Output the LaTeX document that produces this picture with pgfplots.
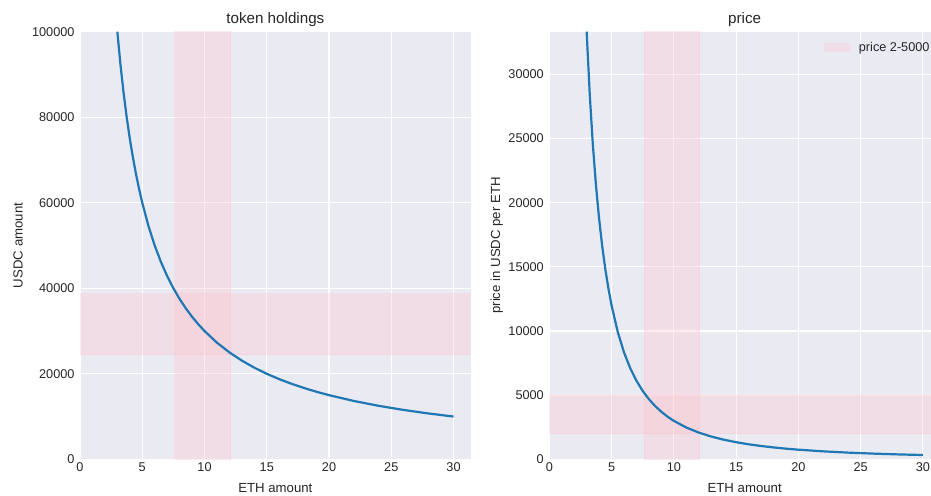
\documentclass[border=0pt]{standalone}
\usepackage{fontspec}
\setmainfont{Liberation Sans}
\usepackage{pgfplots}
\usepackage{pgfplotstable}
\pgfplotsset{compat=1.18}
\definecolor{bgc}{HTML}{EAEAF2}
\definecolor{txt}{HTML}{262626}
\definecolor{c0}{HTML}{1F77B4}
\definecolor{pinkc}{HTML}{FFC0CB}

\pgfplotstableread{
x usdc price
3 100000 33333.3
3.25 92307.7 28402.4
3.5 85714.3 24489.8
3.75 80000 21333.3
4 75000 18750
4.25 70588.2 16609.0
4.5 66666.7 14814.8
4.75 63157.9 13296.4
5 60000 12000
5.5 54545.5 9917.4
6 50000 8333.3
6.5 46153.8 7100.6
7 42857.1 6122.4
7.5 40000 5333.3
8 37500 4687.5
8.5 35294.1 4152.2
9 33333.3 3703.7
9.5 31578.9 3324.1
10 30000 3000
11 27272.7 2479.3
12 25000 2083.3
13 23076.9 1775.1
14 21428.6 1530.6
15 20000 1333.3
16 18750 1171.9
17 17647.1 1038.1
18 16666.7 925.9
19 15789.5 831.0
20 15000 750
22 13636.4 619.8
24 12500 520.8
26 11538.5 443.8
28 10714.3 382.7
30 10000 333.3
}\data

\pgfplotsset{
 every axis title shift=0pt,
 sns/.style={
  scale only axis, width=390.7bp, height=427.6bp,
  anchor=south west,
  axis background/.style={fill=bgc},
  axis line style={draw=none},
  major tick length=0pt,
  grid=major, major grid style={white, line width=1.1bp},
  xmin=0, xmax=31.38, xtick={0,5,...,30},
  ymin=0,
  /pgf/number format/assume math mode=true,
  tick label style={font=\fontsize{12.7bp}{15bp}\selectfont, text=txt},
  yticklabel style={xshift=-2bp},
  label style={font=\fontsize{13.2bp}{16bp}\selectfont, text=txt},
  xlabel style={at={([yshift=-29bp]rel axis cs:0.5,0)}, anchor=center},
  title style={font=\fontsize{15.2bp}{18bp}\selectfont, text=txt, at={([yshift=7.7bp]rel axis cs:0.5,1)}, anchor=base},
  scaled y ticks=false,
  yticklabel style={/pgf/number format/fixed, /pgf/number format/1000 sep={}},
 },
 band/.style={fill=pinkc, fill opacity=0.3, draw=pinkc, draw opacity=0.3, line width=0.8bp, forget plot},
}

\begin{document}
\begin{tikzpicture}
\useasboundingbox (0,0) rectangle (931bp,496bp);
\begin{axis}[sns, at={(80bp,36.7bp)},
  ymax=100000, ytick={0,20000,...,100000},
  title={token holdings}, xlabel={ETH amount}, ylabel={USDC amount},
  ylabel style={at={([xshift=-62bp]rel axis cs:0,0.5)}, anchor=center}]
\addplot[band] coordinates {(7.59,-1000) (12.09,-1000) (12.09,101000) (7.59,101000)} -- cycle;
\addplot[band] coordinates {(-1,24495) (33,24495) (33,38730) (-1,38730)} -- cycle;
\addplot[c0, line width=2.2bp, forget plot] table[x=x, y=usdc] {\data};
\end{axis}
\begin{axis}[sns, at={(549.3bp,36.7bp)},
  ymax=33333.3, ytick={0,5000,...,30000},
  title={price}, xlabel={ETH amount}, ylabel={price in USDC per ETH},
  ylabel style={at={([xshift=-52.5bp]rel axis cs:0,0.5)}, anchor=center},
  legend style={draw=none, fill=none, inner sep=0pt, at={(rel axis cs:1,1)}, anchor=north east, xshift=-8.3bp, yshift=-8.3bp, font=\fontsize{12.7bp}{15bp}\selectfont, text=txt},
  legend cell align=left,
  legend image code/.code={\path[fill=pinkc, fill opacity=0.3, draw=none] (0bp,-4.8bp) rectangle (27bp,4.8bp); \path (0bp,0bp) -- (33bp,0bp);}]
\addlegendimage{draw=none}
\addlegendentry{price 2-5000}
\addplot[band] coordinates {(7.6,-1000) (12.08,-1000) (12.08,34000) (7.6,34000)} -- cycle;
\addplot[band] coordinates {(-1,2000) (33,2000) (33,5000) (-1,5000)} -- cycle;
\addplot[c0, line width=2.2bp, forget plot] table[x=x, y=price] {\data};
\end{axis}
\end{tikzpicture}
\end{document}
